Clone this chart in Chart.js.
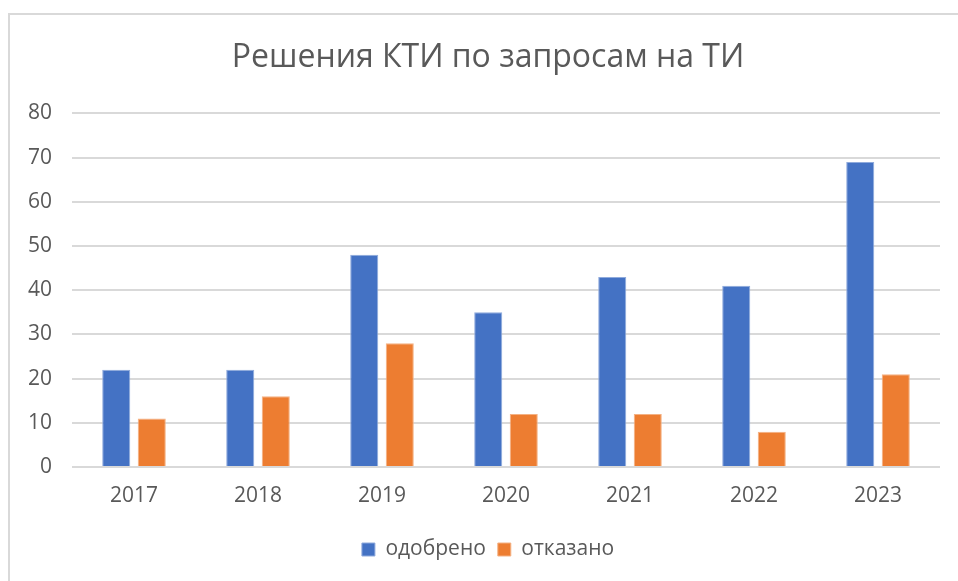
<!DOCTYPE html>
<html>
<head>
<meta charset="utf-8">
<script src="https://cdn.jsdelivr.net/npm/chart.js@4"></script>
<style>
  html, body { margin: 0; padding: 0; background: #fff; overflow: hidden; }
  #frame { position: absolute; left: 8px; top: 13px; width: 1000px; height: 620px; border: 2px solid #d9d9d9; box-sizing: border-box; }
  #wrap { position: absolute; left: 0; top: 0; width: 958px; height: 581px; }
</style>
</head>
<body>
<div id="frame"></div>
<div id="wrap"><canvas id="c" width="958" height="581"></canvas></div>
<script>
const categories = ['2017', '2018', '2019', '2020', '2021', '2022', '2023'];
const approved = [22, 22, 48, 35, 43, 41, 69];
const rejected = [11, 16, 28, 12, 12, 8, 21];
const seriesNames = ['одобрено', 'отказано'];
const titleText = 'Решения КТИ по запросам на ТИ';

const textColor = '#595959';
const fontFamily = '"Open Sans", "Noto Sans", sans-serif';

// let the y-axis label clip region extend into the left padding
const widenYAxis = {
  id: 'widenYAxis',
  afterLayout(chart) {
    const y = chart.scales.y;
    if (y) y.left = 0;
  }
};

new Chart(document.getElementById('c'), {
  type: 'bar',
  data: {
    labels: categories,
    datasets: [
      { label: seriesNames[0], data: approved, backgroundColor: '#4472C4', borderColor: '#8faadc', borderWidth: 1 },
      { label: seriesNames[1], data: rejected, backgroundColor: '#ED7D31', borderColor: '#f4b183', borderWidth: 1 }
    ]
  },
  plugins: [widenYAxis],
  options: {
    responsive: false,
    animation: false,
    devicePixelRatio: 1,
    layout: { padding: { left: 36, right: 18, top: 0, bottom: 11 } },
    datasets: { bar: { categoryPercentage: 0.573, barPercentage: 0.79 } },
    plugins: {
      title: {
        display: true,
        text: titleText,
        color: textColor,
        font: { family: fontFamily, size: 32, weight: 'normal', lineHeight: 1.2 },
        padding: { top: 39, bottom: 36 }
      },
      legend: {
        position: 'bottom',
        labels: {
          color: textColor,
          font: { family: fontFamily, size: 21 },
          boxWidth: 13,
          boxHeight: 13,
          padding: 12,
          useBorderRadius: false
        }
      },
      tooltip: { enabled: false }
    },
    scales: {
      x: {
        grid: { display: false, drawTicks: false },
        border: { display: false },
        ticks: { color: textColor, font: { family: fontFamily, size: 21 }, padding: 16 },
        afterFit: (s) => { s.height = 60; }
      },
      y: {
        min: 0, max: 80,
        grid: { color: '#d9d9d9', lineWidth: 2, drawTicks: false },
        border: { display: false },
        ticks: { stepSize: 10, color: textColor, font: { family: fontFamily, size: 21 }, padding: 20 },
        afterFit: (s) => { s.width = 36; }
      }
    }
  }
});
</script>
</body>
</html>
